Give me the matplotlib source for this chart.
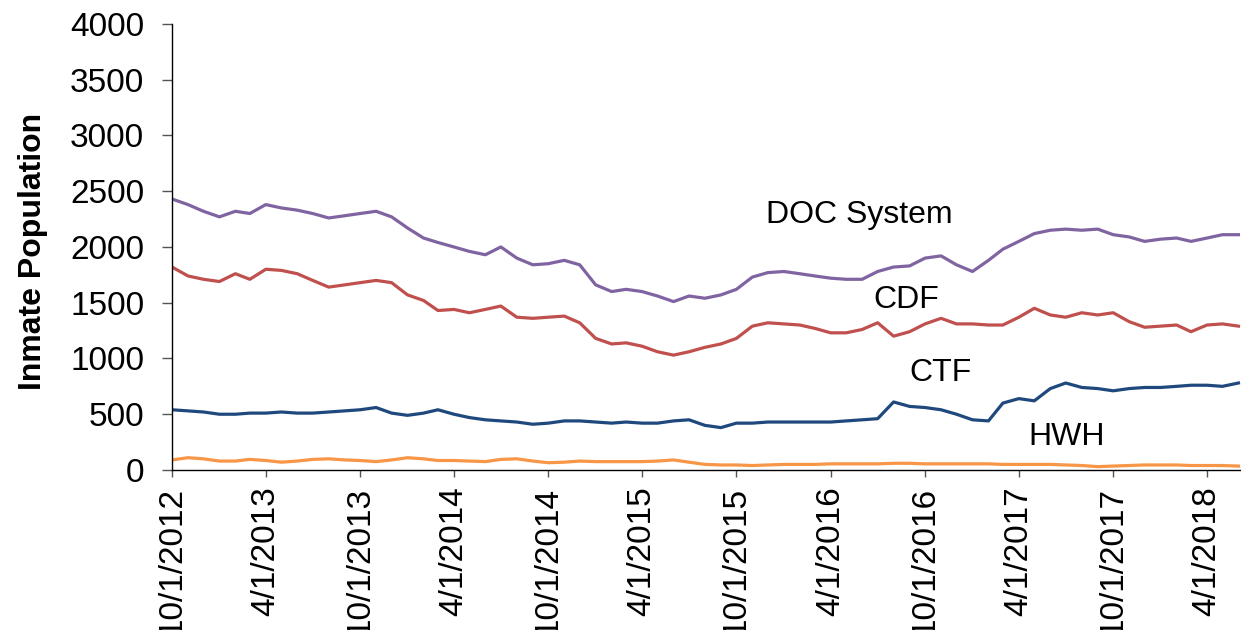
import matplotlib
matplotlib.use("Agg")
import matplotlib.pyplot as plt
import pandas as pd

plt.rcParams['font.family'] = ['Liberation Sans', 'DejaVu Sans']

months = pd.date_range('2012-10-01', '2018-06-01', freq='MS')

doc_system = [2430, 2380, 2320, 2270, 2320, 2300, 2380, 2350, 2330, 2300, 2260, 2280,
              2300, 2320, 2270, 2170, 2080, 2040, 2000, 1960, 1930, 2000, 1900, 1840,
              1850, 1880, 1840, 1660, 1600, 1620, 1600, 1560, 1510, 1560, 1540, 1570,
              1620, 1730, 1770, 1780, 1760, 1740, 1720, 1710, 1710, 1780, 1820, 1830,
              1900, 1920, 1840, 1780, 1880, 1980, 2050, 2120, 2150, 2160, 2150, 2160,
              2110, 2090, 2050, 2070, 2080, 2050, 2080, 2110, 2110]
cdf = [1820, 1740, 1710, 1690, 1760, 1710, 1800, 1790, 1760, 1700, 1640, 1660,
       1680, 1700, 1680, 1570, 1520, 1430, 1440, 1410, 1440, 1470, 1370, 1360,
       1370, 1380, 1320, 1180, 1130, 1140, 1110, 1060, 1030, 1060, 1100, 1130,
       1180, 1290, 1320, 1310, 1300, 1270, 1230, 1230, 1260, 1320, 1200, 1240,
       1310, 1360, 1310, 1310, 1300, 1300, 1370, 1450, 1390, 1370, 1410, 1390,
       1410, 1330, 1280, 1290, 1300, 1240, 1300, 1310, 1290]
ctf = [540, 530, 520, 500, 500, 510, 510, 520, 510, 510, 520, 530,
       540, 560, 510, 490, 510, 540, 500, 470, 450, 440, 430, 410,
       420, 440, 440, 430, 420, 430, 420, 420, 440, 450, 400, 380,
       420, 420, 430, 430, 430, 430, 430, 440, 450, 460, 610, 570,
       560, 540, 500, 450, 440, 600, 640, 620, 730, 780, 740, 730,
       710, 730, 740, 740, 750, 760, 760, 750, 780]
hwh = [90, 110, 100, 80, 80, 95, 85, 70, 80, 95, 100, 90,
       85, 75, 90, 110, 100, 85, 85, 80, 75, 95, 100, 80,
       65, 70, 80, 75, 75, 75, 75, 80, 90, 70, 50, 45,
       45, 40, 45, 50, 50, 50, 55, 55, 55, 55, 60, 60,
       55, 55, 55, 55, 55, 50, 50, 50, 50, 45, 40, 30,
       35, 40, 45, 45, 45, 40, 40, 40, 35]

series_labels = ['DOC System', 'CDF', 'CTF', 'HWH']
label_dates = ['2015-11-27', '2016-06-23', '2016-09-01', '2017-04-20']
label_values = [2287, 1525, 870, 296]

colors = ['#8064A2', '#C0504D', '#1F497D', '#F79646']

fig = plt.figure(figsize=(12.41, 6.30), dpi=100)
ax = fig.add_axes([0.1386, 0.254, 0.861, 0.708])

for vals, c in zip([doc_system, cdf, ctf, hwh], colors):
    ax.plot(months, vals, color=c, lw=2.3)

for lab, d, v in zip(series_labels, label_dates, label_values):
    ax.text(pd.Timestamp(d), v, lab, fontsize=23, ha='left', va='center', color='black')

ax.set_ylim(0, 4000)
ax.set_yticks(range(0, 4001, 500))
ax.set_xlim(pd.Timestamp('2012-10-01'), pd.Timestamp('2018-06-05'))
ticks = pd.date_range('2012-10-01', '2018-04-01', freq='6MS')
ax.set_xticks(ticks)
ax.set_xticklabels([f"{t.month}/{t.day}/{t.year}" for t in ticks], rotation=90)

for s in ['top', 'right']:
    ax.spines[s].set_visible(False)
for s in ['left', 'bottom']:
    ax.spines[s].set_color('#000000')
    ax.spines[s].set_linewidth(1.0)

ax.tick_params(axis='y', direction='out', length=7, width=1, color='#555555', labelsize=24, pad=13)
ax.tick_params(axis='x', direction='out', length=5, width=1, color='#555555', labelsize=24, pad=7)

ax.set_ylabel('Inmate Population', fontsize=23, fontweight='bold')
ax.yaxis.set_label_coords(-0.116, 0.49)

fig.savefig('out.png', dpi=100)
